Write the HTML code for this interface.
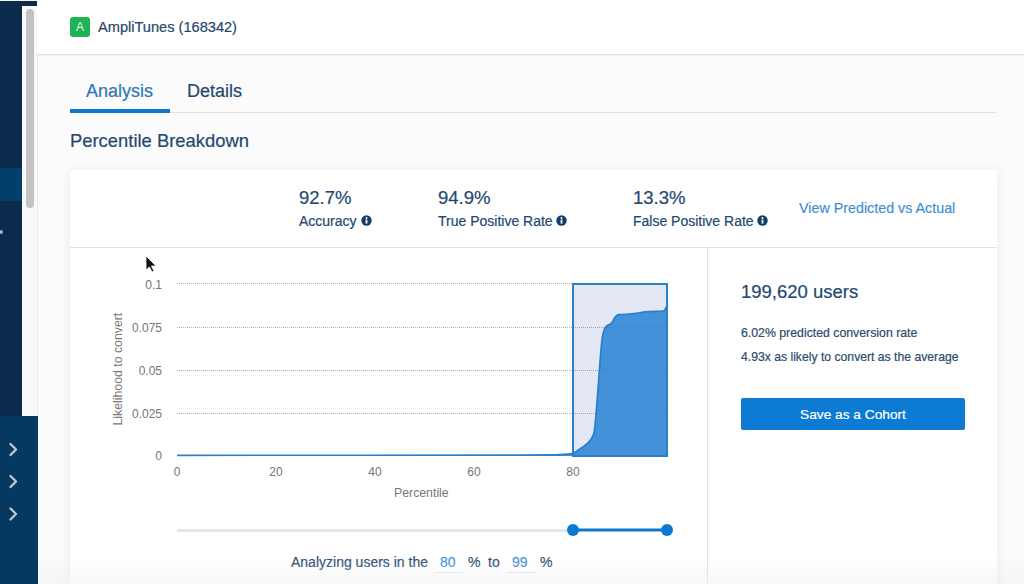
<!DOCTYPE html>
<html><head><meta charset="utf-8">
<style>
*{margin:0;padding:0;box-sizing:border-box}
html,body{width:1024px;height:584px;overflow:hidden;background:#fbfbfb;font-family:"Liberation Sans",sans-serif;position:relative}
.a{position:absolute;white-space:nowrap;line-height:1}
.navy{color:#234870;-webkit-text-stroke:0.2px currentColor}
</style></head><body>
<!-- sidebar -->
<div class="a" style="left:0;top:0;width:37.5px;height:5.5px;background:#0c2a4c"></div>
<div class="a" style="left:0;top:0;width:22.3px;height:416px;background:#0c2a4c"></div><div class="a" style="left:0;top:0;width:38px;height:1px;background:#f6f7f9"></div>
<div class="a" style="left:0;top:167.5px;width:22.3px;height:33px;background:#033f6b"></div>
<div class="a" style="left:-1.5px;top:230.3px;width:4px;height:4px;background:#9fb0c2;border-radius:2px"></div>
<div class="a" style="left:22.3px;top:5.5px;width:15.3px;height:410.5px;background:#f9f9f9;border-right:1px solid #ebebeb"></div>
<div class="a" style="left:26.3px;top:9px;width:8px;height:199px;background:#c2c2c2;border-radius:4px"></div>
<div class="a" style="left:0;top:416px;width:37.6px;height:168px;background:#053961"></div>
<svg class="a" style="left:0;top:416px" width="38" height="168">
 <g fill="none" stroke="#b8c7d8" stroke-width="2.4" stroke-linecap="round" stroke-linejoin="round">
  <path d="M10.5 28 L16 33.5 L10.5 39"/>
  <path d="M10.5 60 L16 65.5 L10.5 71"/>
  <path d="M10.5 92.5 L16 98 L10.5 103.5"/>
 </g>
</svg>
<!-- header -->
<div class="a" style="left:37px;top:0;width:987px;height:55px;background:#fff;border-bottom:1px solid #dde2e7;box-shadow:0 1px 1px rgba(0,0,0,0.04)"></div>
<div class="a" style="left:70px;top:17px;width:20px;height:20px;background:#21b253;border-radius:3px;color:#dff5e5;font-size:12px;line-height:20.5px;text-align:center">A</div>
<div class="a navy" style="left:98px;top:20px;font-size:14.6px;color:#27476a">AmpliTunes (168342)</div>
<!-- tabs -->
<div class="a" style="left:86px;top:82px;font-size:18px;color:#2b78b9;-webkit-text-stroke:0.2px currentColor">Analysis</div>
<div class="a navy" style="left:187px;top:82px;font-size:18px">Details</div>
<div class="a" style="left:70px;top:112px;width:927px;height:1px;background:#dfe3e7"></div>
<div class="a" style="left:70px;top:109px;width:100px;height:4px;background:#0c77cc"></div>
<div class="a navy" style="left:70px;top:132px;font-size:18.4px">Percentile Breakdown</div>
<!-- card -->
<div class="a" style="left:70px;top:170px;width:927px;height:440px;background:#fff;border-radius:3px;box-shadow:0 1px 12px rgba(0,0,0,0.075)"></div>
<div class="a" style="left:70px;top:246.5px;width:927px;height:1.2px;background:#dde2e7"></div>
<div class="a" style="left:707px;top:247px;width:1px;height:340px;background:#dde2e7"></div>
<!-- stats -->
<div class="a navy" style="left:299px;top:188.5px;font-size:18.5px">92.7%</div>
<div class="a navy" style="left:299px;top:213.5px;font-size:14px">Accuracy</div>
<div class="a navy" style="left:438px;top:188.5px;font-size:18.5px">94.9%</div>
<div class="a navy" style="left:438px;top:213.5px;font-size:14px">True Positive Rate</div>
<div class="a navy" style="left:633px;top:188.5px;font-size:18.5px">13.3%</div>
<div class="a navy" style="left:633px;top:213.5px;font-size:14px">False Positive Rate</div>
<svg class="a" style="left:361px;top:215px" width="11" height="11"><circle cx="5.5" cy="5.5" r="5.2" fill="#113e66"/><rect x="4.6" y="4.6" width="1.8" height="4" fill="#fff"/><circle cx="5.5" cy="3" r="1" fill="#fff"/></svg>
<svg class="a" style="left:556px;top:215px" width="11" height="11"><circle cx="5.5" cy="5.5" r="5.2" fill="#113e66"/><rect x="4.6" y="4.6" width="1.8" height="4" fill="#fff"/><circle cx="5.5" cy="3" r="1" fill="#fff"/></svg>
<svg class="a" style="left:757px;top:215px" width="11" height="11"><circle cx="5.5" cy="5.5" r="5.2" fill="#113e66"/><rect x="4.6" y="4.6" width="1.8" height="4" fill="#fff"/><circle cx="5.5" cy="3" r="1" fill="#fff"/></svg>
<div class="a" style="left:799px;top:201px;font-size:14.3px;color:#3b8dd3;-webkit-text-stroke:0.15px currentColor">View Predicted vs Actual</div>
<!-- right panel -->
<div class="a navy" style="left:741px;top:282.7px;font-size:18.5px">199,620 users</div>
<div class="a navy" style="left:741px;top:326.5px;font-size:12.3px;color:#2b4c6e">6.02% predicted conversion rate</div>
<div class="a navy" style="left:741px;top:351px;font-size:12.2px;color:#2b4c6e">4.93x as likely to convert as the average</div>
<div class="a" style="left:741px;top:397.5px;width:224px;height:32px;background:#0d7ad4;border-radius:2px;color:#fff;font-size:13.7px;line-height:34px;-webkit-text-stroke:0.2px #fff;text-align:center">Save as a Cohort</div>
<!-- chart -->
<svg class="a" style="left:0;top:0" width="1024" height="584">
 
 <rect x="573" y="284" width="94" height="172" fill="#e3e8f4"/>
 <g stroke="#000" stroke-opacity="0.25" stroke-width="1" stroke-dasharray="1 1">
  <line x1="177" y1="283.5" x2="667" y2="283.5"/>
  <line x1="177" y1="327.5" x2="667" y2="327.5"/>
  <line x1="177" y1="370.5" x2="667" y2="370.5"/>
  <line x1="177" y1="413.5" x2="667" y2="413.5"/>
 </g>
 <path d="M177 455.3 C234.17 455.27 456.17 455.22 520 455.1 C583.83 454.98 551.33 454.85 560 454.6 C568.67 454.35 569.00 454.33 572 453.6 C575.00 452.87 576.00 451.43 578 450.2 C580.00 448.97 582.17 447.60 584 446.2 C585.83 444.80 587.67 443.23 589 441.8 C590.33 440.37 591.12 439.32 592 437.6 C592.88 435.88 593.60 435.77 594.3 431.5 C595.00 427.23 595.62 418.58 596.2 412 C596.78 405.42 597.28 398.67 597.8 392 C598.32 385.33 598.80 378.67 599.3 372 C599.80 365.33 600.28 357.83 600.8 352 C601.32 346.17 601.82 340.75 602.4 337 C602.98 333.25 603.57 331.37 604.3 329.5 C605.03 327.63 605.85 326.67 606.8 325.8 C607.75 324.93 609.13 324.85 610 324.3 C610.87 323.75 611.25 323.55 612 322.5 C612.75 321.45 613.67 319.22 614.5 318 C615.33 316.78 616.08 315.77 617 315.2 C617.92 314.63 617.50 314.83 620 314.6 C622.50 314.37 628.67 314.10 632 313.8 C635.33 313.50 637.83 313.13 640 312.8 C642.17 312.47 642.50 312.05 645 311.8 C647.50 311.55 652.08 311.40 655 311.3 C657.92 311.20 660.83 311.50 662.5 311.2 C664.17 310.90 664.25 310.45 665 309.5 C665.75 308.55 666.67 306.17 667 305.5 L667 456 L573 456 Z" fill="#4391d9"/>
 <path d="M177 455.3 C234.17 455.27 456.17 455.22 520 455.1 C583.83 454.98 551.33 454.85 560 454.6 C568.67 454.35 569.00 454.33 572 453.6 C575.00 452.87 576.00 451.43 578 450.2 C580.00 448.97 582.17 447.60 584 446.2 C585.83 444.80 587.67 443.23 589 441.8 C590.33 440.37 591.12 439.32 592 437.6 C592.88 435.88 593.60 435.77 594.3 431.5 C595.00 427.23 595.62 418.58 596.2 412 C596.78 405.42 597.28 398.67 597.8 392 C598.32 385.33 598.80 378.67 599.3 372 C599.80 365.33 600.28 357.83 600.8 352 C601.32 346.17 601.82 340.75 602.4 337 C602.98 333.25 603.57 331.37 604.3 329.5 C605.03 327.63 605.85 326.67 606.8 325.8 C607.75 324.93 609.13 324.85 610 324.3 C610.87 323.75 611.25 323.55 612 322.5 C612.75 321.45 613.67 319.22 614.5 318 C615.33 316.78 616.08 315.77 617 315.2 C617.92 314.63 617.50 314.83 620 314.6 C622.50 314.37 628.67 314.10 632 313.8 C635.33 313.50 637.83 313.13 640 312.8 C642.17 312.47 642.50 312.05 645 311.8 C647.50 311.55 652.08 311.40 655 311.3 C657.92 311.20 660.83 311.50 662.5 311.2 C664.17 310.90 664.25 310.45 665 309.5 C665.75 308.55 666.67 306.17 667 305.5" fill="none" stroke="#2a7fc9" stroke-width="1.7"/>
 
 <g stroke="#000" stroke-opacity="0.07" stroke-width="1" stroke-dasharray="1 1">
  <line x1="177" y1="283.5" x2="667" y2="283.5"/>
  <line x1="177" y1="327.5" x2="667" y2="327.5"/>
  <line x1="177" y1="370.5" x2="667" y2="370.5"/>
  <line x1="177" y1="413.5" x2="667" y2="413.5"/>
 </g>
 <rect x="573" y="284" width="94" height="172" fill="none" stroke="#2a80c8" stroke-width="2"/>
 <!-- slider -->
 <line x1="177" y1="530.5" x2="573" y2="530.5" stroke="#e4e5e9" stroke-width="3"/>
 <line x1="573" y1="530" x2="667" y2="530" stroke="#0d78d0" stroke-width="3"/>
 <circle cx="573" cy="530" r="6" fill="#0d78d0"/>
 <circle cx="667" cy="530" r="6" fill="#0d78d0"/>
 <!-- cursor -->
 <path d="M146 256 L146 270 L149.5 267 L152 272 L154 271 L151.5 266 L156 266 Z" fill="#111" stroke="#fff" stroke-width="0.8"/>
</svg>
<!-- axis labels -->
<div class="a" style="left:132px;top:278.5px;width:30px;text-align:right;font-size:12px;color:#767676">0.1</div>
<div class="a" style="left:122px;top:321.5px;width:40px;text-align:right;font-size:12px;color:#767676">0.075</div>
<div class="a" style="left:122px;top:364.5px;width:40px;text-align:right;font-size:12px;color:#767676">0.05</div>
<div class="a" style="left:122px;top:407.5px;width:40px;text-align:right;font-size:12px;color:#767676">0.025</div>
<div class="a" style="left:122px;top:450px;width:40px;text-align:right;font-size:12px;color:#767676">0</div>
<div class="a" style="left:157px;top:466px;width:40px;text-align:center;font-size:12px;color:#767676">0</div>
<div class="a" style="left:256px;top:466px;width:40px;text-align:center;font-size:12px;color:#767676">20</div>
<div class="a" style="left:355px;top:466px;width:40px;text-align:center;font-size:12px;color:#767676">40</div>
<div class="a" style="left:454px;top:466px;width:40px;text-align:center;font-size:12px;color:#767676">60</div>
<div class="a" style="left:553px;top:466px;width:40px;text-align:center;font-size:12px;color:#767676">80</div>
<div class="a" style="left:394px;top:486.5px;font-size:12.3px;color:#767676">Percentile</div>
<div class="a" style="left:62px;top:363px;width:113px;text-align:center;font-size:12.3px;color:#767676;transform:rotate(-90deg)">Likelihood to convert</div>
<!-- analyzing -->
<div class="a navy" style="left:291px;top:555px;font-size:14px">Analyzing users in the</div>
<div class="a" style="left:440px;top:555px;font-size:14px;color:#3a8bd1;-webkit-text-stroke:0.15px currentColor">80</div>
<div class="a" style="left:434px;top:572px;width:29px;height:1px;background:#e3e8ee"></div>
<div class="a navy" style="left:468px;top:555px;font-size:14px">%</div>
<div class="a navy" style="left:488px;top:555px;font-size:14px">to</div>
<div class="a" style="left:512px;top:555px;font-size:14px;color:#3a8bd1;-webkit-text-stroke:0.15px currentColor">99</div>
<div class="a" style="left:507px;top:572px;width:29px;height:1px;background:#e3e8ee"></div>
<div class="a navy" style="left:540px;top:555px;font-size:14px">%</div>
<!-- bottom fade -->
<div class="a" style="left:38px;top:556px;width:986px;height:28px;background:linear-gradient(rgba(238,238,240,0),rgba(238,238,240,0.45))"></div>
</body></html>
